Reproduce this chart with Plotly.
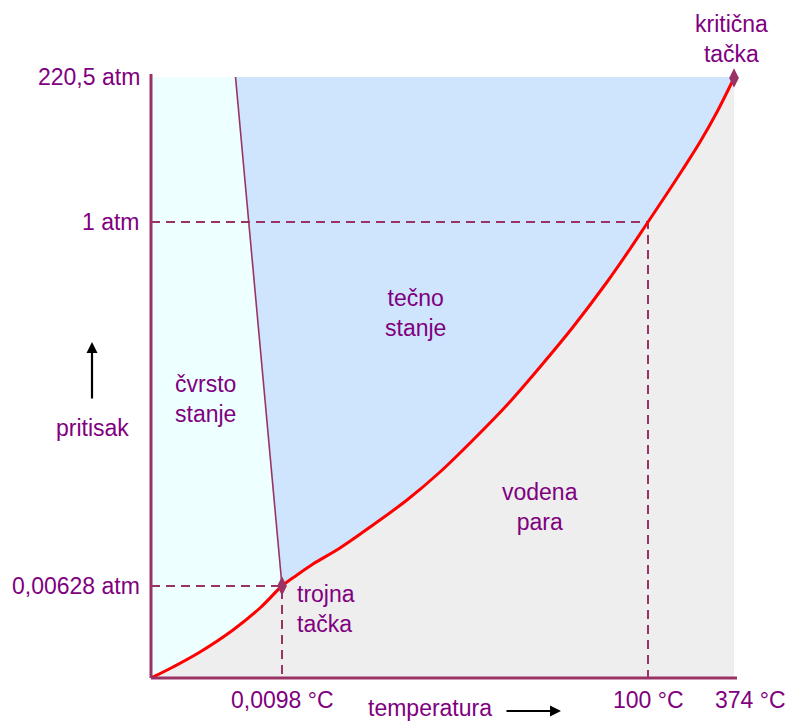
import plotly.graph_objects as go

# Schematic phase diagram of water (coordinates on a schematic, non-linear scale)
# Liquid/vapour + solid/vapour boundary, from the origin through the triple point to the critical point
curve_t = [0, 22, 49, 82, 109, 131, 146, 162, 189, 222, 256, 289, 322, 356, 389, 422, 456, 479, 497, 515, 532, 549, 566, 583]
curve_p = [0, 11, 26, 48, 70, 92, 103, 114, 130, 153, 178, 206, 238, 273, 311, 351, 396, 429, 456, 483, 509, 536, 566, 600]

# Solid/liquid boundary (melting line), from the triple point to the top of the diagram
melt_t = [131, 84.5]
melt_p = [92, 601]

T_MAX, P_MAX = 583, 601

triple = (131, 92)
boiling = (497, 456)
critical = (583, 600)

temp_ticks = [131, 497, 583]
temp_labels = ["0,0098 °C", "100 °C", "374 °C"]
pres_ticks = [92, 456, 601]
pres_labels = ["0,00628 atm", "1 atm", "220,5 atm"]

FONT = "Liberation Sans Narrow, Arial Narrow, Liberation Sans, Arial, sans-serif"
TXT = "#800080"
AXC = "#993366"


def px(x):
    """Schematic temperature -> paper x."""
    return x / T_MAX


def py(y):
    """Schematic pressure -> paper y."""
    return y / P_MAX


fig = go.Figure()

# Vapour region (below the curve)
fig.add_trace(go.Scatter(
    x=curve_t + [T_MAX, 0], y=curve_p + [0, 0],
    fill="toself", fillcolor="#eeeeee", line=dict(width=0), mode="lines",
    hoverinfo="skip", showlegend=False))

# Liquid region (above the curve, right of the melting line)
i_tr = curve_t.index(triple[0])
liq_t = curve_t[i_tr:] + [T_MAX, melt_t[1], melt_t[0]]
liq_p = curve_p[i_tr:] + [P_MAX, P_MAX, melt_p[0]]
fig.add_trace(go.Scatter(
    x=liq_t, y=liq_p, fill="toself", fillcolor="#cfe5fd",
    line=dict(width=0), mode="lines", hoverinfo="skip", showlegend=False))

# Solid region (left of the melting line)
sol_t = curve_t[:i_tr + 1] + [melt_t[1], 0]
sol_p = curve_p[:i_tr + 1] + [melt_p[1], P_MAX]
fig.add_trace(go.Scatter(
    x=sol_t, y=sol_p, fill="toself", fillcolor="#eeffff",
    line=dict(width=0), mode="lines", hoverinfo="skip", showlegend=False))

# Reference dashed lines
dash = dict(color=AXC, width=2, dash="9px,6px")
for (t, p) in (triple, boiling):
    fig.add_trace(go.Scatter(x=[0, t, t], y=[p, p, 0], mode="lines", line=dash,
                             hoverinfo="skip", showlegend=False))

# Melting line
fig.add_trace(go.Scatter(x=melt_t, y=melt_p, mode="lines",
                         line=dict(color=AXC, width=1.6),
                         hoverinfo="skip", showlegend=False))

# Vapour-pressure curve
fig.add_trace(go.Scatter(x=curve_t, y=curve_p, mode="lines", cliponaxis=False,
                         line=dict(color="#ff0000", width=3, shape="spline", smoothing=1.0),
                         hoverinfo="skip", showlegend=False))

# Triple and critical points
fig.add_trace(go.Scatter(x=[triple[0], critical[0]], y=[triple[1], critical[1]],
                         mode="markers", cliponaxis=False,
                         marker=dict(symbol="diamond-tall", size=14, color=AXC),
                         hoverinfo="skip", showlegend=False))

# Axes
fig.add_shape(type="line", xref="paper", yref="paper", x0=0, x1=0, y0=0, y1=py(P_MAX + 3),
              line=dict(color=AXC, width=3))
fig.add_shape(type="line", xref="paper", yref="paper", x0=0, x1=px(T_MAX + 3), y0=0, y1=0,
              line=dict(color=AXC, width=3))

ann = []
font = dict(family=FONT, size=23, color=TXT)


def label(x, y, s, xanchor="center", align="center"):
    ann.append(dict(xref="paper", yref="paper", x=px(x), y=py(y), text=s,
                    xanchor=xanchor, yanchor="middle", align=align,
                    showarrow=False, font=font))


for v, s in zip(pres_ticks, pres_labels):
    label(-9, v, s, xanchor="right")
for v, s, dx in zip(temp_ticks, temp_labels, [0, 0, 16]):
    label(v + dx, -22, s)

label(54, 279, "čvrsto<br>stanje")
label(264, 365, "tečno<br>stanje")
label(389, 171, "vodena<br>para")
label(144, 69, "trojna<br>tačka", xanchor="left", align="left")
label(580, 639, "kritična<br>tačka")
label(-59, 250, "pritisak")
label(279, -30, "temperatura")


def arrow(x0, y0, x1, y1):
    ann.append(dict(xref="paper", yref="paper", axref="pixel", ayref="pixel",
                    x=px(x1), y=py(y1), ax=(x0 - x1), ay=-(y0 - y1),
                    text="", showarrow=True, arrowhead=2, arrowsize=1,
                    arrowwidth=2.2, arrowcolor="#000000"))


# Direction arrows
arrow(-59, 278, -59, 336)
arrow(354, -33, 410, -33)

fig.update_layout(
    width=789, height=722,
    margin=dict(l=151, r=55, t=77, b=44),
    paper_bgcolor="white", plot_bgcolor="white",
    xaxis=dict(range=[0, T_MAX], visible=False, fixedrange=True),
    yaxis=dict(range=[0, P_MAX], visible=False, fixedrange=True),
    annotations=ann,
    showlegend=False,
)

fig.write_html("out.html")
